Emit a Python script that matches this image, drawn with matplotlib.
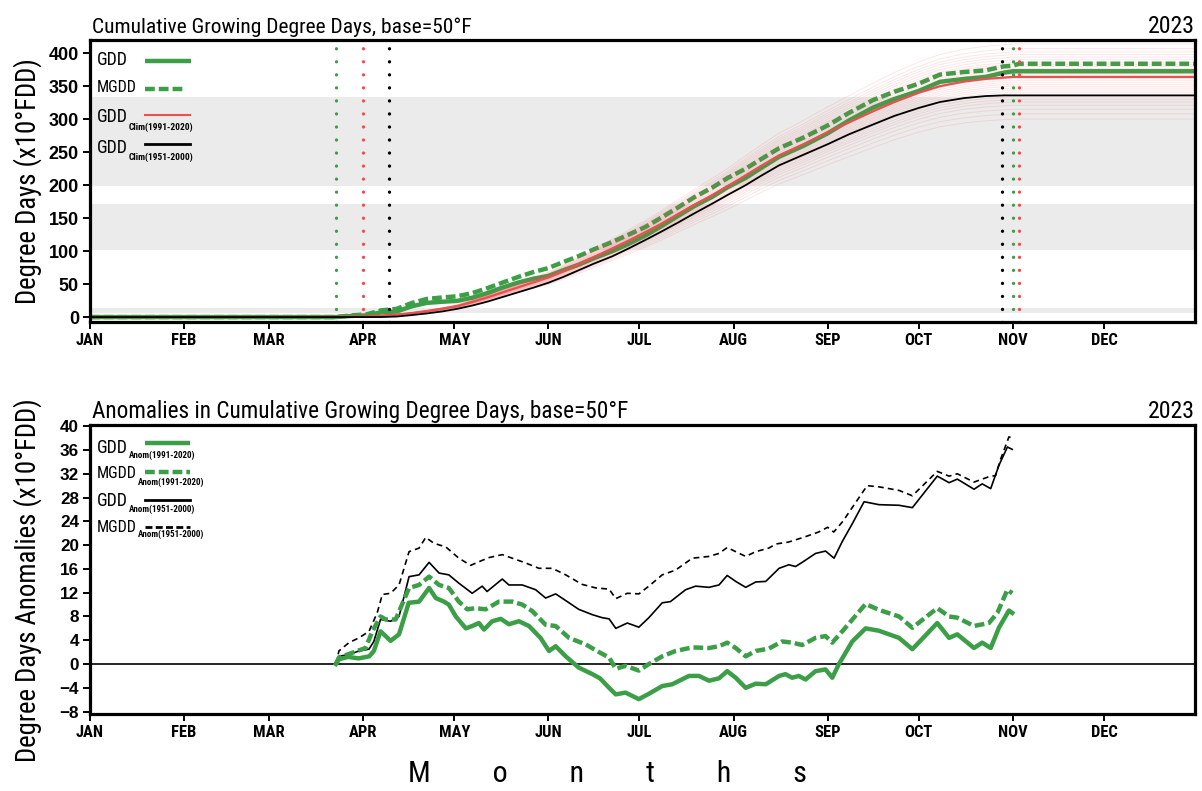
import os
import numpy as np
import matplotlib
matplotlib.use("Agg")
import matplotlib.pyplot as plt
from matplotlib import font_manager as fm
from matplotlib.lines import Line2D

# ---------------------------------------------------------------- data
month_labels = ["JAN", "FEB", "MAR", "APR", "MAY", "JUN",
                "JUL", "AUG", "SEP", "OCT", "NOV", "DEC"]
month_start_doy = [0, 31, 59, 90, 120, 151, 181, 212, 243, 273, 304, 334]
year_label = "2023"

# cumulative GDD (x10 degF degree days) by day of year
top_days = [0, 81, 86, 91, 96, 101, 106, 111, 116, 121, 126, 131, 136, 141,
            146, 151, 156, 161, 166, 172, 177, 183, 188, 194, 199, 205, 210,
            216, 221, 227, 235, 243, 250, 258, 265, 273, 280, 288, 295, 301,
            304, 306, 364]
gdd_2023 = [0, 0, 1.7, 2.5, 7.2, 8.4, 16.3, 21.5, 23.2, 24.5, 29.4, 36.5,
            44.9, 52.2, 58.1, 62.3, 71.1, 79.4, 89.2, 99.7, 110.0, 123.7,
            137.2, 154.0, 168.0, 182.3, 196.7, 211.0, 225.7, 243.0, 259.5,
            278.5, 298.0, 317.6, 330.6, 342.8, 356.6, 361.0, 364.0, 370.5,
            372.6, 372.6, 372.6]
mgdd_2023 = [0, 0, 2.5, 4.0, 10.2, 12.4, 21.3, 27.5, 29.7, 31.5, 36.4, 44.0,
             52.4, 60.7, 68.1, 74.3, 83.6, 92.4, 102.7, 113.7, 124.0, 136.7,
             150.2, 167.0, 181.5, 196.3, 210.7, 225.0, 239.2, 256.0, 272.0,
             290.5, 309.5, 329.1, 341.6, 353.8, 367.6, 371.5, 374.0, 380.0,
             381.1, 384.0, 384.0]
clim_1991_2020 = [0, 0.3, 0.6, 1.2, 2.2, 3.8, 6, 9, 12.5, 16.5, 23, 30, 37.5,
                  45, 52.5, 60, 69.5, 80, 91, 104, 115, 129, 141, 157, 170,
                  185, 198, 215, 229, 245, 262, 280, 295, 312, 326, 340, 350,
                  357, 361, 363, 364, 364, 364]
clim_1951_2000 = [0, 0, 0, 0, 0, 0.8, 3, 5.5, 8.5, 12.5, 17.5, 23.5, 30.5,
                  37.5, 44.5, 52, 61, 71, 81, 92, 103, 117, 129, 144, 157,
                  172, 185, 200, 214, 230, 246, 262, 277, 292, 305, 317, 326,
                  332, 335, 336, 336, 336, 336]
# season totals of the individual 1991-2020 years
year_totals_1991_2020 = [414, 407, 402, 398, 394, 390, 386, 383, 380, 377,
                         374, 371, 368, 365, 362, 359, 356, 353, 350, 347,
                         344, 341, 338, 334, 330, 326, 321, 315, 308, 300]

# season start / end days
season_2023 = (81, 304)
season_1991_2020 = (90, 306)
season_1951_2000 = (98.5, 300.5)

shaded_bands = [(5.6, 13), (101.5, 172), (198.5, 334)]

# anomalies (x10 degF degree days)
gdd_anom91_days = [81, 82, 85, 88.5, 92, 93.5, 95.7, 97.4, 99, 101.8, 105,
                   108.4, 111.7, 113.9, 116.6, 118.2, 120.5, 123.8, 125.9,
                   128.1, 129.8, 132.5, 135.3, 138, 141.3, 144.6, 148.4,
                   151.2, 153.4, 156.7, 161, 165.5, 168, 171, 173.2, 176.4,
                   180.8, 184.1, 188.5, 191.8, 197.3, 200.6, 203.9, 207.2,
                   209.9, 212.7, 216, 219.3, 222.6, 227, 229.1, 231.3, 233.5,
                   235.7, 239, 242.3, 244.5, 246.7, 251.1, 255.5, 259.9,
                   263.2, 266.5, 270.9, 279.1, 283, 285.7, 291.2, 293.9,
                   296.7, 299.4, 302.7, 303.8]
gdd_anom91 = [0, 0.8, 1.2, 0.95, 1.3, 2.2, 5.5, 4.7, 3.9, 5.0, 10.3, 10.5,
              12.8, 11.1, 10.5, 10.0, 8.0, 6.0, 6.4, 6.9, 5.8, 7.2, 7.6, 6.7,
              7.2, 6.4, 4.4, 2.2, 3.0, 1.3, -0.6, -1.7, -2.4, -4.0, -5.1,
              -4.8, -5.9, -5.0, -3.7, -3.4, -2.0, -2.0, -2.8, -2.4, -1.2,
              -2.3, -4.0, -3.3, -3.4, -2.0, -1.7, -2.3, -2.0, -2.6, -1.2,
              -0.9, -2.3, 0.0, 3.8, 6.0, 5.6, 5.0, 4.4, 2.5, 6.9, 4.4, 5.0,
              2.7, 3.6, 2.7, 6.1, 9.0, 8.6]

mgdd_anom91_days = [81, 82, 86.4, 90.8, 93, 95.7, 97.4, 100.7, 105.1, 108.4,
                    111.7, 115, 118.2, 121.5, 124.3, 127, 130.3, 134.7,
                    139.1, 142.4, 145.7, 150.1, 153.4, 157.8, 163.3, 167.7,
                    171, 173.2, 176.4, 180.8, 184.1, 188.5, 192.9, 198.4,
                    203.9, 207.2, 209.9, 212.7, 216, 219.3, 223.6, 228,
                    231.3, 234.6, 239, 242.3, 244.5, 247.8, 255.5, 259.9,
                    266.5, 270.9, 279.1, 283, 285.7, 291.2, 296.1, 298.9,
                    302.2, 303.8]
mgdd_anom91 = [0, 1.1, 1.9, 2.7, 5.5, 8.0, 7.5, 7.5, 12.8, 13.3, 14.7, 13.3,
               12.8, 10.5, 9.2, 9.4, 9.2, 10.5, 10.5, 10.0, 8.9, 6.6, 6.4,
               4.4, 3.3, 2.0, 1.1, -0.8, -0.3, -1.1, 0.0, 1.3, 2.2, 2.8, 2.7,
               3.0, 3.6, 2.7, 1.3, 2.2, 2.6, 3.8, 3.6, 3.2, 4.4, 4.7, 3.6,
               5.5, 10.1, 9.1, 8.0, 6.1, 9.4, 8.0, 7.8, 6.4, 6.9, 8.6, 12.5,
               11.9]

gdd_anom51_days = [81, 82, 85.3, 88.6, 91.9, 93.5, 95.7, 99, 101.8, 105.1,
                   108.4, 111.7, 115, 118.2, 121.5, 125.9, 129.2, 130.8,
                   135.8, 138, 142.4, 146.8, 150.1, 153.4, 157.8, 161, 165.5,
                   168.7, 171, 173.2, 177, 180.8, 184.1, 188.5, 191.2, 196.2,
                   199.5, 203.9, 207.2, 209.9, 212.7, 216, 219.3, 222.6, 227,
                   230.2, 232.4, 234.6, 239, 242.3, 245.1, 247.8, 251, 255,
                   259.9, 266.5, 270.9, 279.1, 283, 285.7, 291.2, 293.9,
                   296.7, 299.4, 302.2, 303.8]
gdd_anom51 = [0, 1.3, 1.6, 2.2, 2.5, 3.8, 7.5, 7.2, 8.0, 14.7, 15.0, 17.1,
              15.3, 15.0, 13.6, 11.9, 13.1, 12.2, 14.3, 13.3, 13.3, 12.5,
              11.1, 11.8, 10.3, 9.2, 8.3, 7.8, 7.6, 6.0, 6.9, 6.2, 7.8, 10.3,
              10.5, 12.5, 13.1, 12.9, 13.3, 14.9, 13.9, 12.9, 13.8, 13.9,
              16.1, 16.7, 16.4, 17.1, 18.6, 19.0, 17.8, 20.6, 23.5, 27.3,
              26.8, 26.7, 26.3, 31.6, 30.5, 31.1, 29.4, 30.3, 29.5, 33.4,
              36.5, 36.1]

mgdd_anom51_days = [81, 82, 85.3, 88.6, 91.9, 94.6, 96.3, 99, 101.8, 105.1,
                    108.4, 110.6, 113.3, 117.2, 121.5, 125.4, 128.1, 131.4,
                    135.8, 139.1, 143.5, 147.9, 152.3, 156.7, 162.1, 166.6,
                    171, 173.2, 177, 180.8, 184.1, 188.5, 192.9, 198.4,
                    203.9, 207.2, 209.9, 212.7, 216, 219.3, 223.6, 226, 230,
                    235, 240, 243, 245, 248, 252, 256, 259.9, 266.5, 270.9,
                    279.1, 283, 285.7, 291.2, 296.1, 298.3, 300, 302.7, 303.8]
mgdd_anom51 = [0, 2.2, 3.6, 4.4, 5.5, 8.6, 11.7, 11.9, 13.3, 18.9, 19.5,
               21.3, 20.3, 19.7, 17.8, 16.6, 17.2, 17.9, 18.4, 17.8, 17.0,
               16.1, 16.1, 15.0, 13.4, 12.8, 12.6, 11.0, 11.9, 11.8, 13.1,
               15.0, 15.8, 17.8, 18.1, 18.6, 19.6, 18.9, 18.1, 18.9, 19.5,
               20.2, 20.5, 21.3, 22.2, 23.0, 22.2, 24.0, 27.0, 30.0, 29.8,
               29.2, 28.3, 32.4, 31.6, 32.0, 30.6, 31.5, 31.7, 34.5, 38.2,
               38.0]

# ---------------------------------------------------------------- fonts
_files = {os.path.basename(f.fname).lower(): f.fname
          for f in fm.fontManager.ttflist}


def _first_file(candidates):
    for c in candidates:
        if c.lower() in _files:
            return _files[c.lower()]
    return None


NARROW_REG = _first_file(["NotoSans-ExtraCondensed.ttf",
                          "NotoSans-Condensed.ttf",
                          "LiberationSansNarrow-Regular.ttf",
                          "RobotoCondensed-Regular.ttf",
                          "DejaVuSansCondensed.ttf"])
NARROW_BOLD = _first_file(["NotoSans-ExtraCondensedBold.ttf",
                           "NotoSans-CondensedBold.ttf",
                           "LiberationSansNarrow-Bold.ttf",
                           "RobotoCondensed-Bold.ttf",
                           "DejaVuSansCondensed-Bold.ttf"])


def narrow(size, weight="normal"):
    path = NARROW_BOLD if weight == "bold" else NARROW_REG
    if path:
        return fm.FontProperties(fname=path, size=size)
    return fm.FontProperties(family="DejaVu Sans", size=size, weight=weight)


def regular(size, weight="normal"):
    fam = "Liberation Sans" if any(
        f.name == "Liberation Sans" for f in fm.fontManager.ttflist) \
        else "DejaVu Sans"
    return fm.FontProperties(family=fam, size=size, weight=weight)


# ---------------------------------------------------------------- style
GREEN = "#3c9f48"
RED = "#eb5050"
BAND = "#ebebeb"
W, H = 1202, 791


def fx(px):
    return px / W


def fy(py):
    return 1 - py / H


fig = plt.figure(figsize=(W / 100, H / 100), dpi=100)
renderer = fig.canvas.get_renderer()


def fit(artist, target_px, along="w"):
    """Rescale a text artist so its rendered extent equals target_px."""
    bb = artist.get_window_extent(renderer)
    cur = bb.width if along == "w" else bb.height
    artist.set_fontsize(artist.get_fontsize() * target_px / cur)
    return artist


ax1 = fig.add_axes([fx(90), fy(322), fx(1195) - fx(90), fy(40) - fy(322)])
ax2 = fig.add_axes([fx(90), fy(714), fx(1195) - fx(90), fy(425) - fy(714)])


def style_axes(ax, yticks, ylab_target):
    ax.set_xlim(0, 364)
    ax.set_xticks(month_start_doy)
    ax.set_xticklabels(month_labels)
    ax.set_yticks(yticks)
    for s in ax.spines.values():
        s.set_linewidth(2.3)
        s.set_zorder(10)
    ax.tick_params(direction="out", length=5, width=1.4, pad=3)
    xl = ax.get_xticklabels()
    for lab in xl:
        lab.set_fontproperties(narrow(13, "bold"))
    size = fit(xl[0], 28).get_fontsize()
    for lab in xl:
        lab.set_fontsize(size)
    yl = ax.get_yticklabels()
    for lab in yl:
        lab.set_fontproperties(regular(12.5, "bold"))
    size = fit(yl[-1], ylab_target).get_fontsize()
    for lab in yl:
        lab.set_fontsize(size)


# ---------------------------------------------------------------- top panel
for lo, hi in shaded_bands:
    ax1.axhspan(lo, hi, color=BAND, lw=0, zorder=0)

top_days_arr = np.array(top_days, dtype=float)
clim91_arr = np.array(clim_1991_2020, dtype=float)
for total in year_totals_1991_2020:
    ax1.plot(top_days_arr, clim91_arr * total / clim91_arr[-1],
             color=RED, lw=0.7, alpha=0.14, zorder=4)

ax1.plot(top_days, gdd_2023, color=GREEN, lw=3.2, zorder=3)
ax1.plot(top_days, mgdd_2023, color=GREEN, lw=3.2, ls=(0, (2.2, 0.9)),
         zorder=3)
ax1.plot(top_days, clim_1991_2020, color=RED, lw=1.6, zorder=5)
ax1.plot(top_days, clim_1951_2000, color="black", lw=1.3, zorder=5)

for (start, end), col in ((season_2023, GREEN), (season_1991_2020, RED),
                          (season_1951_2000, "black")):
    for d in (start, end):
        ax1.axvline(d, color=col, lw=2.4, ls=(0, (0.01, 3.9)),
                    dash_capstyle="round", zorder=6)

ax1.set_ylim(-7.5, 420)
style_axes(ax1, list(range(0, 401, 50)), 30)

# ---------------------------------------------------------------- bottom panel
ax2.axhline(0, color="black", lw=1.2, zorder=2)
ax2.plot(gdd_anom51_days, gdd_anom51, color="black", lw=1.2, zorder=3)
ax2.plot(mgdd_anom51_days, mgdd_anom51, color="black", lw=1.2,
         ls=(0, (3.5, 2.5)), zorder=3)
ax2.plot(gdd_anom91_days, gdd_anom91, color=GREEN, lw=3.2, zorder=4)
ax2.plot(mgdd_anom91_days, mgdd_anom91, color=GREEN, lw=3.2,
         ls=(0, (2.2, 0.9)), zorder=4)
ax2.set_ylim(-8.4, 40.2)
style_axes(ax2, list(range(-8, 41, 4)), 19)

# ---------------------------------------------------------------- legends


def legend_row(x, y, main, sub, line_kw, main_w, sub_w=66, x0=145, x1=190,
               dy_line=-3, dy_sub=9):
    t = fig.text(fx(x), fy(y), main, fontproperties=narrow(16),
                 ha="left", va="center")
    fit(t, main_w)
    if sub:
        bb = t.get_window_extent(renderer)
        s = fig.text(fx(bb.x1 + 1), fy(y + dy_sub), sub,
                     fontproperties=narrow(8.5, "bold"),
                     ha="left", va="center")
        fit(s, sub_w)
    fig.add_artist(Line2D([fx(x0), fx(x1)], [fy(y + dy_line)] * 2,
                          transform=fig.transFigure, **line_kw))


green_solid = dict(color=GREEN, lw=3.2, solid_capstyle="butt")
green_dash = dict(color=GREEN, lw=3.2, ls=(0, (2.2, 0.9)))
red_thin = dict(color=RED, lw=1.5)
black_solid = dict(color="black", lw=2.0)
black_dash = dict(color="black", lw=2.0, ls=(0, (2.5, 1.2)))

legend_row(97, 60, "GDD", None, green_solid, 31, x1=191, dy_line=1)
legend_row(97, 88, "MGDD", None, green_dash, 40, x1=186, dy_line=1)
legend_row(97, 117, "GDD", "Clim(1991-2020)", red_thin, 31, sub_w=64,
           dy_line=-2, dy_sub=10)
legend_row(97, 148, "GDD", "Clim(1951-2000)", black_solid, 31, sub_w=64,
           dy_line=-4, dy_sub=9)

legend_row(97, 448, "GDD", "Anom(1991-2020)", green_solid, 31,
           dy_line=-5, dy_sub=7)
legend_row(97, 474, "MGDD", "Anom(1991-2020)", green_dash, 40,
           dy_line=-2, dy_sub=8)
legend_row(97, 501, "GDD", "Anom(1951-2000)", black_solid, 31,
           dy_line=-1, dy_sub=8)
legend_row(97, 528, "MGDD", "Anom(1951-2000)", black_dash, 40,
           dy_line=-1, dy_sub=6)

# ---------------------------------------------------------------- titles
t = fig.text(fx(92), fy(33), "Cumulative Growing Degree Days, base=50\u00b0F",
             fontproperties=narrow(17), ha="left", va="baseline")
fit(t, 380)
t = fig.text(fx(1195), fy(33), year_label, fontproperties=narrow(17),
             ha="right", va="baseline")
fit(t, 47)
t = fig.text(fx(92), fy(418),
             "Anomalies in Cumulative Growing Degree Days, base=50\u00b0F",
             fontproperties=narrow(17), ha="left", va="baseline")
fit(t, 536)
t = fig.text(fx(1195), fy(418), year_label, fontproperties=narrow(17),
             ha="right", va="baseline")
fit(t, 47)

t = fig.text(fx(28), fy(181), "Degree Days (x10\u00b0FDD)",
             fontproperties=narrow(19.5), rotation=90, ha="center",
             va="center")
fit(t, 248, along="h")
t = fig.text(fx(28), fy(580), "Degree Days Anomalies (x10\u00b0FDD)",
             fontproperties=narrow(19.5), rotation=90, ha="center",
             va="center")
fit(t, 366, along="h")

t = fig.text(fx(607), fy(782), (" " * 9).join("Months"),
             fontproperties=narrow(26), ha="center", va="baseline")
fit(t, 399)

fig.savefig("out.png", dpi=100)
